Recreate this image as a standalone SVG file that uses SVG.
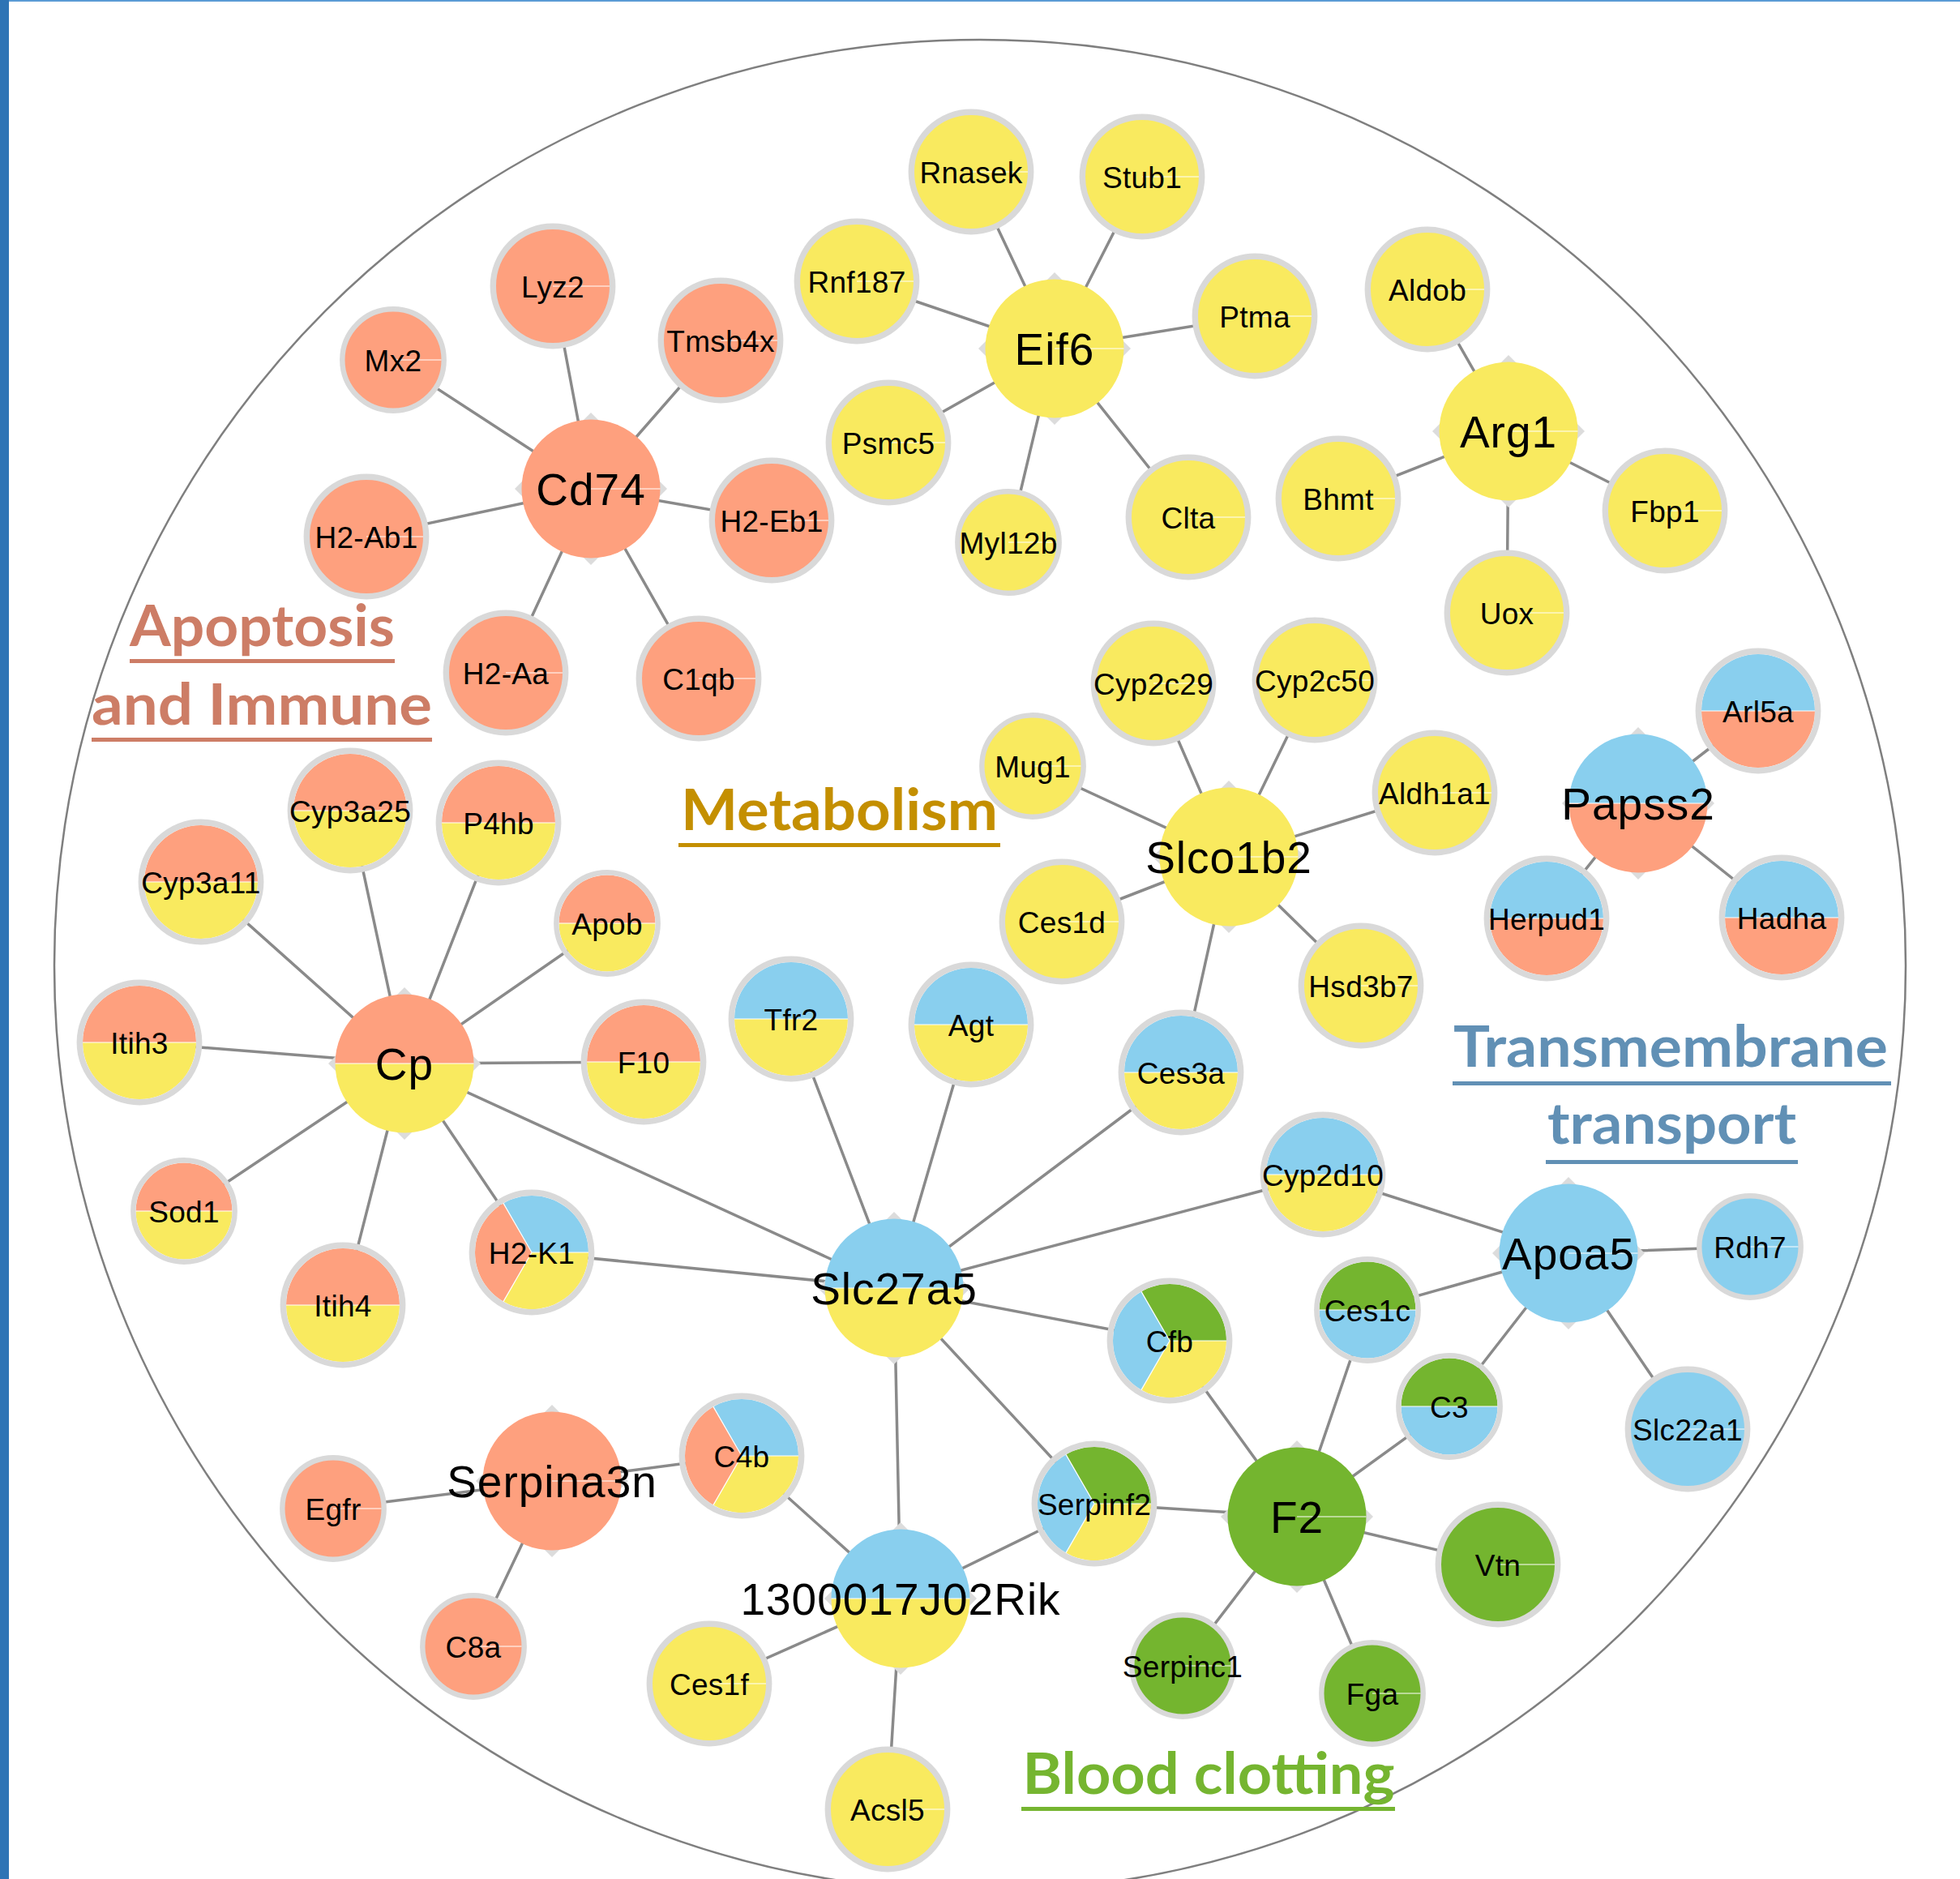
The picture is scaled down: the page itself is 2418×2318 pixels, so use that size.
<svg xmlns="http://www.w3.org/2000/svg" xmlns:xlink="http://www.w3.org/1999/xlink" width="2418" height="2318" viewBox="0 0 2418 2318">
<style>
.edge{stroke:#8a8a8a;stroke-width:3.5;fill:none}
.s{fill:#fea07e}.y{fill:#f9ea5f}.b{fill:#89cfee}.g{fill:#74b52f}
.d{fill:#dcdcdc}
.rl{stroke:#d9d9d9;stroke-width:7.4}
.rs{stroke:#d9d9d9;stroke-width:6.4}
.rn{fill:none}
.wl{stroke:#ffffff;stroke-width:1.2;fill:none}
.t{font-family:"Liberation Sans",Arial,sans-serif;font-size:37px;text-anchor:middle;fill:#000;letter-spacing:0.3px}
.h{font-size:55px;letter-spacing:1px}
.hd{font-family:Lato,"Open Sans",sans-serif;font-weight:700;font-size:71px;text-anchor:middle}
</style>
<defs>
<path id="LT" d="M-70,0A70,70 0 0 1 70,0Z"/>
<path id="LB" d="M-70,0A70,70 0 0 0 70,0Z"/>
<path id="ST" d="M-59.5,0A59.5,59.5 0 0 1 59.5,0Z"/>
<path id="SB" d="M-59.5,0A59.5,59.5 0 0 0 59.5,0Z"/>
<path id="HT" d="M-85.5,0A85.5,85.5 0 0 1 85.5,0Z"/>
<path id="HB" d="M-85.5,0A85.5,85.5 0 0 0 85.5,0Z"/>
<path id="P1" d="M0,0L70,0A70,70 0 0 0 -35,-60.62Z"/>
<path id="P2" d="M0,0L-35,-60.62A70,70 0 0 0 -35,60.62Z"/>
<path id="P3" d="M0,0L-35,60.62A70,70 0 0 0 70,0Z"/>
<path id="D" d="M0,-94L94,0L0,94L-94,0Z"/>
</defs>
<rect width="2418" height="2318" fill="#ffffff"/>
<rect x="0" y="0" width="2418" height="2" fill="#5b9bd5"/>
<rect x="0" y="0" width="11" height="2318" fill="#2e74b5"/>
<circle cx="1209" cy="1191" r="1142" fill="none" stroke="#7f7f7f" stroke-width="2.5"/>

<g id="edges" class="edge">
<path d="M729,603L682,353M729,603L485,444M729,603L889,420M729,603L452,662M729,603L952,642M729,603L624,830M729,603L862,837"/>
<path d="M1301,430L1198,212M1301,430L1409,218M1301,430L1057,347M1301,430L1548,390M1301,430L1096,546M1301,430L1244,669M1301,430L1466,638"/>
<path d="M1861,532L1761,357M1861,532L1651,615M1861,532L2054,630M1861,532L1859,756"/>
<path d="M1516,1057L1423,843M1516,1057L1622,839M1516,1057L1274,945M1516,1057L1770,978M1516,1057L1310,1137M1516,1057L1679,1216M1516,1057L1457,1323"/>
<path d="M2021,991L2169,877M2021,991L1908,1133M2021,991L2198,1132"/>
<path d="M499,1312L432,1000M499,1312L615,1015M499,1312L248,1088M499,1312L749,1139M499,1312L172,1286M499,1312L794,1310M499,1312L227,1494M499,1312L423,1610M499,1312L656,1545M499,1312L1103,1589"/>
<path d="M1103,1589L976,1257M1103,1589L1198,1264M1103,1589L1457,1323M1103,1589L1632,1449M1103,1589L656,1545M1103,1589L1443,1654M1103,1589L1350,1855M1103,1589L1111,1972"/>
<path d="M1935,1546L1632,1449M1935,1546L2159,1538M1935,1546L1687,1616M1935,1546L1788,1735M1935,1546L2082,1763"/>
<path d="M1600,1871L1443,1654M1600,1871L1687,1616M1600,1871L1788,1735M1600,1871L1350,1855M1600,1871L1848,1930M1600,1871L1693,2089M1600,1871L1459,2055"/>
<path d="M681,1827L411,1861M681,1827L584,2031M681,1827L915,1796"/>
<path d="M1111,1972L915,1796M1111,1972L1350,1855M1111,1972L875,2077M1111,1972L1095,2232"/>
</g>

<g id="labels">
<g id="label-apoptosis" fill="#cd7d66">
<text class="hd" x="323.5" y="797" textLength="327" lengthAdjust="spacingAndGlyphs">Apoptosis</text>
<rect x="160" y="813" width="327" height="5"/>
<text class="hd" x="323" y="894" textLength="420" lengthAdjust="spacingAndGlyphs">and Immune</text>
<rect x="113" y="910" width="420" height="5"/>
</g>
<g id="label-metabolism" fill="#c48f00">
<text class="hd" x="1035.5" y="1024" textLength="391" lengthAdjust="spacingAndGlyphs">Metabolism</text>
<rect x="837" y="1040" width="397" height="5"/>
</g>
<g id="label-transport" fill="#6190b5">
<text class="hd" x="2061" y="1316" textLength="536" lengthAdjust="spacingAndGlyphs">Transmembrane</text>
<rect x="1792" y="1334" width="541" height="5"/>
<text class="hd" x="2062.5" y="1411" textLength="307" lengthAdjust="spacingAndGlyphs">transport</text>
<rect x="1907" y="1431" width="311" height="5"/>
</g>
<g id="label-clotting" fill="#75b530">
<text class="hd" x="1491" y="2213" textLength="459" lengthAdjust="spacingAndGlyphs">Blood clotting</text>
<rect x="1260" y="2229" width="461" height="5"/>
</g>
</g>

<g id="nodes">
<!-- Cd74 cluster -->
<g id="node-Cd74" transform="translate(729,603)"><use href="#D" class="d"/><circle r="85.5" class="s"/><path class="wl" d="M0,0H85.5"/><text class="t h" y="19.5">Cd74</text></g>
<g id="node-Lyz2" transform="translate(682,353)"><circle r="73.7" class="s rl"/><path class="wl" d="M0,0H70"/><text class="t" y="13.5">Lyz2</text></g>
<g id="node-Mx2" transform="translate(485,444)"><circle r="62.7" class="s rs"/><path class="wl" d="M0,0H59.5"/><text class="t" y="13.5">Mx2</text></g>
<g id="node-Tmsb4x" transform="translate(889,420)"><circle r="73.7" class="s rl"/><path class="wl" d="M0,0H70"/><text class="t" y="13.5">Tmsb4x</text></g>
<g id="node-H2-Ab1" transform="translate(452,662)"><circle r="73.7" class="s rl"/><path class="wl" d="M0,0H70"/><text class="t" y="13.5">H2-Ab1</text></g>
<g id="node-H2-Eb1" transform="translate(952,642)"><circle r="73.7" class="s rl"/><path class="wl" d="M0,0H70"/><text class="t" y="13.5">H2-Eb1</text></g>
<g id="node-H2-Aa" transform="translate(624,830)"><circle r="73.7" class="s rl"/><path class="wl" d="M0,0H70"/><text class="t" y="13.5">H2-Aa</text></g>
<g id="node-C1qb" transform="translate(862,837)"><circle r="73.7" class="s rl"/><path class="wl" d="M0,0H70"/><text class="t" y="13.5">C1qb</text></g>

<!-- Eif6 cluster -->
<g id="node-Eif6" transform="translate(1301,430)"><use href="#D" class="d"/><circle r="85.5" class="y"/><path class="wl" d="M0,0H85.5"/><text class="t h" y="19.5">Eif6</text></g>
<g id="node-Rnasek" transform="translate(1198,212)"><circle r="73.7" class="y rl"/><path class="wl" d="M0,0H70"/><text class="t" y="13.5">Rnasek</text></g>
<g id="node-Stub1" transform="translate(1409,218)"><circle r="73.7" class="y rl"/><path class="wl" d="M0,0H70"/><text class="t" y="13.5">Stub1</text></g>
<g id="node-Rnf187" transform="translate(1057,347)"><circle r="73.7" class="y rl"/><path class="wl" d="M0,0H70"/><text class="t" y="13.5">Rnf187</text></g>
<g id="node-Ptma" transform="translate(1548,390)"><circle r="73.7" class="y rl"/><path class="wl" d="M0,0H70"/><text class="t" y="13.5">Ptma</text></g>
<g id="node-Psmc5" transform="translate(1096,546)"><circle r="73.7" class="y rl"/><path class="wl" d="M0,0H70"/><text class="t" y="13.5">Psmc5</text></g>
<g id="node-Myl12b" transform="translate(1244,669)"><circle r="62.7" class="y rs"/><path class="wl" d="M0,0H59.5"/><text class="t" y="13.5">Myl12b</text></g>
<g id="node-Clta" transform="translate(1466,638)"><circle r="73.7" class="y rl"/><path class="wl" d="M0,0H70"/><text class="t" y="13.5">Clta</text></g>

<!-- Arg1 cluster -->
<g id="node-Arg1" transform="translate(1861,532)"><use href="#D" class="d"/><circle r="85.5" class="y"/><path class="wl" d="M0,0H85.5"/><text class="t h" y="19.5">Arg1</text></g>
<g id="node-Aldob" transform="translate(1761,357)"><circle r="73.7" class="y rl"/><path class="wl" d="M0,0H70"/><text class="t" y="13.5">Aldob</text></g>
<g id="node-Bhmt" transform="translate(1651,615)"><circle r="73.7" class="y rl"/><path class="wl" d="M0,0H70"/><text class="t" y="13.5">Bhmt</text></g>
<g id="node-Fbp1" transform="translate(2054,630)"><circle r="73.7" class="y rl"/><path class="wl" d="M0,0H70"/><text class="t" y="13.5">Fbp1</text></g>
<g id="node-Uox" transform="translate(1859,756)"><circle r="73.7" class="y rl"/><path class="wl" d="M0,0H70"/><text class="t" y="13.5">Uox</text></g>

<!-- Slco1b2 cluster -->
<g id="node-Slco1b2" transform="translate(1516,1057)"><use href="#D" class="d"/><circle r="85.5" class="y"/><path class="wl" d="M0,0H85.5"/><text class="t h" y="19.5">Slco1b2</text></g>
<g id="node-Cyp2c29" transform="translate(1423,843)"><circle r="73.7" class="y rl"/><path class="wl" d="M0,0H70"/><text class="t" y="13.5">Cyp2c29</text></g>
<g id="node-Cyp2c50" transform="translate(1622,839)"><circle r="73.7" class="y rl"/><path class="wl" d="M0,0H70"/><text class="t" y="13.5">Cyp2c50</text></g>
<g id="node-Mug1" transform="translate(1274,945)"><circle r="62.7" class="y rs"/><path class="wl" d="M0,0H59.5"/><text class="t" y="13.5">Mug1</text></g>
<g id="node-Aldh1a1" transform="translate(1770,978)"><circle r="73.7" class="y rl"/><path class="wl" d="M0,0H70"/><text class="t" y="13.5">Aldh1a1</text></g>
<g id="node-Ces1d" transform="translate(1310,1137)"><circle r="73.7" class="y rl"/><path class="wl" d="M0,0H70"/><text class="t" y="13.5">Ces1d</text></g>
<g id="node-Hsd3b7" transform="translate(1679,1216)"><circle r="73.7" class="y rl"/><path class="wl" d="M0,0H70"/><text class="t" y="13.5">Hsd3b7</text></g>
<g id="node-Ces3a" transform="translate(1457,1323)"><use href="#LT" class="b"/><use href="#LB" class="y"/><circle r="73.7" class="rl rn"/><path class="wl" d="M-70,0H70"/><text class="t" y="13.5">Ces3a</text></g>

<!-- Papss2 cluster -->
<g id="node-Papss2" transform="translate(2021,991)"><use href="#D" class="d"/><use href="#HT" class="b"/><use href="#HB" class="s"/><path class="wl" d="M-85.5,0H85.5"/><text class="t h" y="19.5">Papss2</text></g>
<g id="node-Arl5a" transform="translate(2169,877)"><use href="#LT" class="b"/><use href="#LB" class="s"/><circle r="73.7" class="rl rn"/><path class="wl" d="M-70,0H70"/><text class="t" y="13.5">Arl5a</text></g>
<g id="node-Herpud1" transform="translate(1908,1133)"><use href="#LT" class="b"/><use href="#LB" class="s"/><circle r="73.7" class="rl rn"/><path class="wl" d="M-70,0H70"/><text class="t" y="13.5">Herpud1</text></g>
<g id="node-Hadha" transform="translate(2198,1132)"><use href="#LT" class="b"/><use href="#LB" class="s"/><circle r="73.7" class="rl rn"/><path class="wl" d="M-70,0H70"/><text class="t" y="13.5">Hadha</text></g>

<!-- Cp cluster -->
<g id="node-Cp" transform="translate(499,1312)"><use href="#D" class="d"/><use href="#HT" class="s"/><use href="#HB" class="y"/><path class="wl" d="M-85.5,0H85.5"/><text class="t h" y="19.5">Cp</text></g>
<g id="node-Cyp3a25" transform="translate(432,1000)"><use href="#LT" class="s"/><use href="#LB" class="y"/><circle r="73.7" class="rl rn"/><path class="wl" d="M-70,0H70"/><text class="t" y="13.5">Cyp3a25</text></g>
<g id="node-P4hb" transform="translate(615,1015)"><use href="#LT" class="s"/><use href="#LB" class="y"/><circle r="73.7" class="rl rn"/><path class="wl" d="M-70,0H70"/><text class="t" y="13.5">P4hb</text></g>
<g id="node-Cyp3a11" transform="translate(248,1088)"><use href="#LT" class="s"/><use href="#LB" class="y"/><circle r="73.7" class="rl rn"/><path class="wl" d="M-70,0H70"/><text class="t" y="13.5">Cyp3a11</text></g>
<g id="node-Apob" transform="translate(749,1139)"><use href="#ST" class="s"/><use href="#SB" class="y"/><circle r="62.7" class="rs rn"/><path class="wl" d="M-59.5,0H59.5"/><text class="t" y="13.5">Apob</text></g>
<g id="node-Itih3" transform="translate(172,1286)"><use href="#LT" class="s"/><use href="#LB" class="y"/><circle r="73.7" class="rl rn"/><path class="wl" d="M-70,0H70"/><text class="t" y="13.5">Itih3</text></g>
<g id="node-F10" transform="translate(794,1310)"><use href="#LT" class="s"/><use href="#LB" class="y"/><circle r="73.7" class="rl rn"/><path class="wl" d="M-70,0H70"/><text class="t" y="13.5">F10</text></g>
<g id="node-Sod1" transform="translate(227,1494)"><use href="#ST" class="s"/><use href="#SB" class="y"/><circle r="62.7" class="rs rn"/><path class="wl" d="M-59.5,0H59.5"/><text class="t" y="13.5">Sod1</text></g>
<g id="node-Itih4" transform="translate(423,1610)"><use href="#LT" class="s"/><use href="#LB" class="y"/><circle r="73.7" class="rl rn"/><path class="wl" d="M-70,0H70"/><text class="t" y="13.5">Itih4</text></g>
<g id="node-H2-K1" transform="translate(656,1545)"><use href="#P1" class="b"/><use href="#P2" class="s"/><use href="#P3" class="y"/><circle r="73.7" class="rl rn"/><path class="wl" d="M0,0H70M0,0L-35,-60.62M0,0L-35,60.62"/><text class="t" y="13.5">H2-K1</text></g>

<!-- Slc27a5 cluster -->
<g id="node-Slc27a5" transform="translate(1103,1589)"><use href="#D" class="d"/><use href="#HT" class="b"/><use href="#HB" class="y"/><path class="wl" d="M-85.5,0H85.5"/><text class="t h" y="19.5">Slc27a5</text></g>
<g id="node-Tfr2" transform="translate(976,1257)"><use href="#LT" class="b"/><use href="#LB" class="y"/><circle r="73.7" class="rl rn"/><path class="wl" d="M-70,0H70"/><text class="t" y="13.5">Tfr2</text></g>
<g id="node-Agt" transform="translate(1198,1264)"><use href="#LT" class="b"/><use href="#LB" class="y"/><circle r="73.7" class="rl rn"/><path class="wl" d="M-70,0H70"/><text class="t" y="13.5">Agt</text></g>
<g id="node-Cyp2d10" transform="translate(1632,1449)"><use href="#LT" class="b"/><use href="#LB" class="y"/><circle r="73.7" class="rl rn"/><path class="wl" d="M-70,0H70"/><text class="t" y="13.5">Cyp2d10</text></g>
<g id="node-Cfb" transform="translate(1443,1654)"><use href="#P1" class="g"/><use href="#P2" class="b"/><use href="#P3" class="y"/><circle r="73.7" class="rl rn"/><path class="wl" d="M0,0H70M0,0L-35,-60.62M0,0L-35,60.62"/><text class="t" y="13.5">Cfb</text></g>
<g id="node-Serpinf2" transform="translate(1350,1855)"><use href="#P1" class="g"/><use href="#P2" class="b"/><use href="#P3" class="y"/><circle r="73.7" class="rl rn"/><path class="wl" d="M0,0H70M0,0L-35,-60.62M0,0L-35,60.62"/><text class="t" y="13.5">Serpinf2</text></g>

<!-- Apoa5 cluster -->
<g id="node-Apoa5" transform="translate(1935,1546)"><use href="#D" class="d"/><circle r="85.5" class="b"/><path class="wl" d="M0,0H85.5"/><text class="t h" y="19.5">Apoa5</text></g>
<g id="node-Rdh7" transform="translate(2159,1538)"><circle r="62.7" class="b rs"/><path class="wl" d="M0,0H59.5"/><text class="t" y="13.5">Rdh7</text></g>
<g id="node-Ces1c" transform="translate(1687,1616)"><use href="#ST" class="g"/><use href="#SB" class="b"/><circle r="62.7" class="rs rn"/><path class="wl" d="M-59.5,0H59.5"/><text class="t" y="13.5">Ces1c</text></g>
<g id="node-C3" transform="translate(1788,1735)"><use href="#ST" class="g"/><use href="#SB" class="b"/><circle r="62.7" class="rs rn"/><path class="wl" d="M-59.5,0H59.5"/><text class="t" y="13.5">C3</text></g>
<g id="node-Slc22a1" transform="translate(2082,1763)"><circle r="73.7" class="b rl"/><path class="wl" d="M0,0H70"/><text class="t" y="13.5">Slc22a1</text></g>

<!-- F2 cluster -->
<g id="node-F2" transform="translate(1600,1871)"><use href="#D" class="d"/><circle r="85.5" class="g"/><path class="wl" d="M0,0H85.5"/><text class="t h" y="19.5">F2</text></g>
<g id="node-Vtn" transform="translate(1848,1930)"><circle r="73.7" class="g rl"/><path class="wl" d="M0,0H70"/><text class="t" y="13.5">Vtn</text></g>
<g id="node-Fga" transform="translate(1693,2089)"><circle r="62.7" class="g rs"/><path class="wl" d="M0,0H59.5"/><text class="t" y="13.5">Fga</text></g>
<g id="node-Serpinc1" transform="translate(1459,2055)"><circle r="62.7" class="g rs"/><path class="wl" d="M0,0H59.5"/><text class="t" y="13.5">Serpinc1</text></g>

<!-- Serpina3n cluster -->
<g id="node-Serpina3n" transform="translate(681,1827)"><use href="#D" class="d"/><circle r="85.5" class="s"/><path class="wl" d="M0,0H85.5"/><text class="t h" y="19.5">Serpina3n</text></g>
<g id="node-Egfr" transform="translate(411,1861)"><circle r="62.7" class="s rs"/><path class="wl" d="M0,0H59.5"/><text class="t" y="13.5">Egfr</text></g>
<g id="node-C8a" transform="translate(584,2031)"><circle r="62.7" class="s rs"/><path class="wl" d="M0,0H59.5"/><text class="t" y="13.5">C8a</text></g>
<g id="node-C4b" transform="translate(915,1796)"><use href="#P1" class="b"/><use href="#P2" class="s"/><use href="#P3" class="y"/><circle r="73.7" class="rl rn"/><path class="wl" d="M0,0H70M0,0L-35,-60.62M0,0L-35,60.62"/><text class="t" y="13.5">C4b</text></g>

<!-- 1300017J02Rik cluster -->
<g id="node-1300017J02Rik" transform="translate(1111,1972)"><use href="#D" class="d"/><use href="#HT" class="b"/><use href="#HB" class="y"/><path class="wl" d="M-85.5,0H85.5"/><text class="t h" y="19.5">1300017J02Rik</text></g>
<g id="node-Ces1f" transform="translate(875,2077)"><circle r="73.7" class="y rl"/><path class="wl" d="M0,0H70"/><text class="t" y="13.5">Ces1f</text></g>
<g id="node-Acsl5" transform="translate(1095,2232)"><circle r="73.7" class="y rl"/><path class="wl" d="M0,0H70"/><text class="t" y="13.5">Acsl5</text></g>
</g>
</svg>
